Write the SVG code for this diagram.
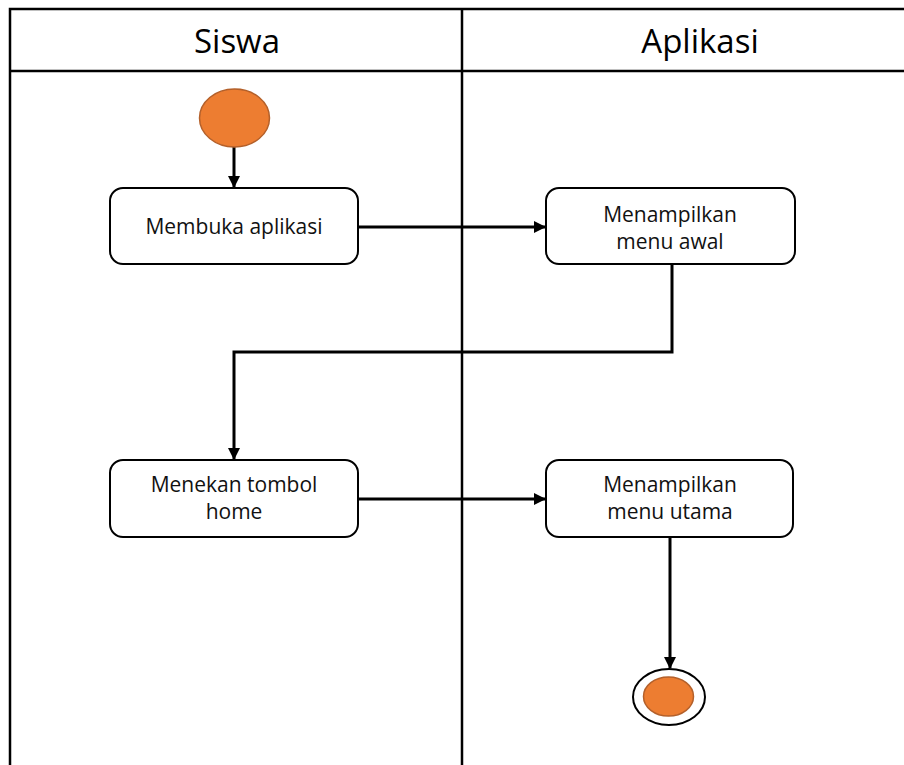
<svg xmlns="http://www.w3.org/2000/svg" width="904" height="765" viewBox="0 0 904 765">
<style>
.lane{fill:none;stroke:#000;stroke-width:2.5}
.node{fill:#fff;stroke:#000;stroke-width:2}
.t{font-family:"Open Sans","Noto Sans",sans-serif;font-size:21px;fill:#111;text-anchor:middle}
.h{font-family:"Open Sans","Noto Sans",sans-serif;font-size:33px;fill:#000;text-anchor:middle}
.c{fill:none;stroke:#000;stroke-width:3}
.dot{fill:#ED7D31;stroke:#B4602A;stroke-width:1.5}
</style>
<defs>
<marker id="a" markerWidth="12" markerHeight="12" refX="11" refY="6" orient="auto" markerUnits="userSpaceOnUse" viewBox="0 0 12 12">
<path d="M0,0 L12,6 L0,12 z" fill="#000"/>
</marker>
</defs>
<rect width="904" height="765" fill="#fff"/>
<g id="lanes">
<path class="lane" d="M10,765 V9 H904 M10,71 H904 M462,9 V765"/>
<text class="h" x="237" y="53">Siswa</text>
<text class="h" x="700" y="53">Aplikasi</text>
</g>
<g id="connectors">
<line class="c" x1="234" y1="147" x2="234" y2="187" marker-end="url(#a)"/>
<line class="c" x1="358" y1="227" x2="545" y2="227" marker-end="url(#a)"/>
<polyline class="c" points="672,265 672,352 234,352 234,459" marker-end="url(#a)"/>
<line class="c" x1="358" y1="499" x2="545" y2="499" marker-end="url(#a)"/>
<line class="c" x1="670" y1="537" x2="670" y2="668" marker-end="url(#a)"/>
</g>
<g id="start">
<ellipse class="dot" cx="234.5" cy="118" rx="35" ry="29"/>
</g>
<g id="membuka">
<rect class="node" x="110" y="188" width="248" height="76" rx="13"/>
<text class="t" x="234" y="234">Membuka aplikasi</text>
</g>
<g id="menu-awal">
<rect class="node" x="546" y="188" width="249" height="76" rx="13"/>
<text class="t" x="670" y="222">Menampilkan</text>
<text class="t" x="670" y="249">menu awal</text>
</g>
<g id="menekan">
<rect class="node" x="110" y="460" width="248" height="77" rx="13"/>
<text class="t" x="234" y="492">Menekan tombol</text>
<text class="t" x="234" y="519">home</text>
</g>
<g id="menu-utama">
<rect class="node" x="546" y="460" width="247" height="77" rx="13"/>
<text class="t" x="670" y="492">Menampilkan</text>
<text class="t" x="670" y="519">menu utama</text>
</g>
<g id="end">
<ellipse cx="669" cy="697" rx="36" ry="28" fill="#fff" stroke="#000" stroke-width="2"/>
<ellipse class="dot" cx="668.5" cy="696.5" rx="25" ry="19.5"/>
</g>
</svg>
